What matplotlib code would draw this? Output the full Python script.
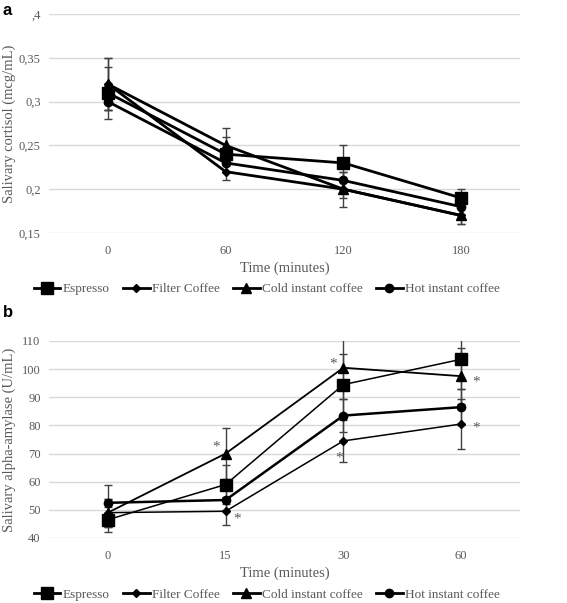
import matplotlib.pyplot as plt
from matplotlib.lines import Line2D

plt.rcParams['font.family'] = ['Liberation Serif', 'DejaVu Serif']

series = ["Espresso", "Filter Coffee", "Cold instant coffee", "Hot instant coffee"]
markers = ["s", "D", "^", "o"]
msizes = [8, 4, 7, 6]

# panel a: cortisol
times_a = ["0", "60", "120", "180"]
espresso_a = [0.31, 0.24, 0.23, 0.19]
filter_a = [0.32, 0.22, 0.20, 0.17]
cold_a = [0.32, 0.25, 0.20, 0.17]
hot_a = [0.30, 0.23, 0.21, 0.18]
err_espresso_a = [0.03, 0.02, 0.02, 0.01]
err_filter_a = [0.03, 0.01, 0.01, 0.01]
err_cold_a = [0.03, 0.02, 0.02, 0.01]
err_hot_a = [0.01, 0.01, 0.01, 0.01]

# panel b: alpha-amylase
times_b = ["0", "15", "30", "60"]
espresso_b = [46.5, 59, 94.5, 103.5]
filter_b = [49, 49.5, 74.5, 80.5]
cold_b = [49, 70, 100.5, 97.5]
hot_b = [52.5, 53.5, 83.5, 86.5]
err_espresso_b = [4.5, 7, 11, 10.5]
err_filter_b = [5, 5, 7.5, 9]
err_cold_b = [5, 9, 11, 10]
err_hot_b = [6.5, 4, 6, 6.5]

# asterisks marking significance (x in category units, y value)
star_x = [0.915, 1.10, 1.915, 1.96, 3.13, 3.13]
star_y = [72.3, 46.8, 101.7, 68.5, 95.3, 79.1]

grey = "#595959"

fig = plt.figure(figsize=(5.67, 6.03), dpi=100)
ax1 = fig.add_axes([0.0864, 0.6136, 0.8307, 0.3632])
ax2 = fig.add_axes([0.0864, 0.1078, 0.8307, 0.3267])


def style(ax, labels, ylabel):
    ax.set_xlim(-0.5, 3.5)
    ax.set_xticks(range(4))
    ax.set_xticklabels(labels)
    for s in ax.spines.values():
        s.set_visible(False)
    ax.tick_params(length=0, colors=grey, labelsize=9)
    ax.tick_params(axis="x", pad=9)
    ax.tick_params(axis="y", pad=6)
    ax.yaxis.grid(True, color="#d9d9d9", lw=1)
    ax.set_axisbelow(True)
    ax.set_xlabel("Time (minutes)", color=grey, fontsize=10.5, labelpad=3)
    ax.set_ylabel(ylabel, color=grey, fontsize=10.5, va="center")
    ax.yaxis.set_label_coords(-0.085, 0.5)


x = range(4)
data_a = [(espresso_a, err_espresso_a), (filter_a, err_filter_a), (cold_a, err_cold_a), (hot_a, err_hot_a)]
for (y, e), m, ms in zip(data_a, markers, msizes):
    ax1.errorbar(x, y, yerr=e, color="black", ecolor="#404040", elinewidth=1, capsize=3,
                 lw=2, marker=m, ms=ms)
style(ax1, times_a, "Salivary cortisol (mcg/mL)")
ax1.set_ylim(0.15, 0.4)
ax1.set_yticks([0.15, 0.2, 0.25, 0.3, 0.35, 0.4])
ax1.set_yticklabels(["0,15", "0,2", "0,25", "0,3", "0,35", ",4"])

data_b = [(espresso_b, err_espresso_b), (filter_b, err_filter_b), (cold_b, err_cold_b), (hot_b, err_hot_b)]
lws_b = [1.1, 1.1, 1.3, 1.8]
for (y, e), m, ms, lw in zip(data_b, markers, msizes, lws_b):
    ax2.errorbar(x, y, yerr=e, color="black", ecolor="#404040", elinewidth=1, capsize=3,
                 lw=lw, marker=m, ms=ms)
for sx, sy in zip(star_x, star_y):
    ax2.text(sx, sy, "*", color=grey, fontsize=11, ha="center", va="center")
style(ax2, times_b, "Salivary alpha-amylase (U/mL)")
ax2.set_ylim(40, 110)
ax2.set_yticks(range(40, 111, 10))

handles = [Line2D([], [], color="black", lw=2, marker=m, ms=ms) for m, ms in zip(markers, msizes)]
for yb in [0.5207, 0.0133]:
    fig.legend(handles, series, loc="center", bbox_to_anchor=(0.471, yb), ncol=4, frameon=False,
               fontsize=9.5, labelcolor=grey, handlelength=2.0, handletextpad=0.2,
               columnspacing=1.0)

fig.text(0.005, 0.995, "a", fontsize=12, fontweight="bold", family="Liberation Sans", va="top")
fig.text(0.005, 0.495, "b", fontsize=12, fontweight="bold", family="Liberation Sans", va="top")

fig.savefig("out.png", dpi=100)
